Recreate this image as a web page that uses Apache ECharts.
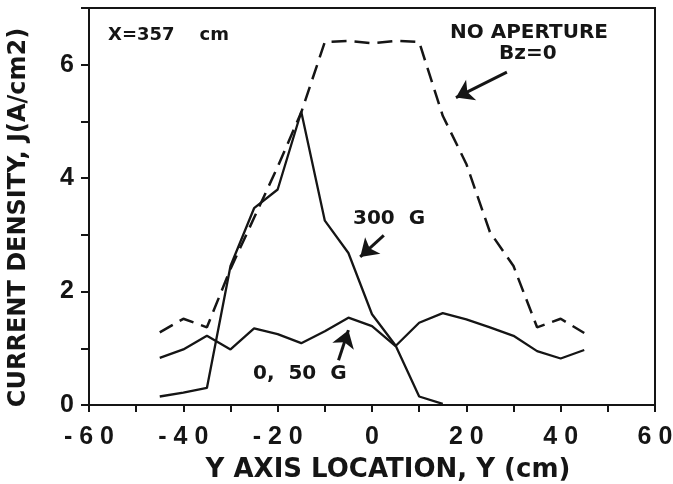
<!DOCTYPE html>
<html>
<head>
<meta charset="utf-8">
<script src="https://cdn.jsdelivr.net/npm/echarts@6/dist/echarts.min.js"></script>
<style>
  html, body { margin: 0; padding: 0; background: #fff; }
  #chart { width: 673px; height: 484px; }
</style>
</head>
<body>
<div id="chart"></div>
<script>
// Y axis location (cm)
const yPos = [-45, -40, -35, -30, -25, -20, -15, -10, -5, 0, 5, 10, 15, 20, 25, 30, 35, 40, 45];
// current density J (A/cm2)
const noAperture = [1.28, 1.52, 1.37, 2.4, 3.3, 4.2, 5.16, 6.4, 6.42, 6.38, 6.42, 6.4, 5.1, 4.25, 3.05, 2.45, 1.37, 1.52, 1.27];
const g300Pos = [-45, -40, -35, -30, -25, -20, -15, -10, -5, 0, 5, 10, 15];
const g300 = [0.15, 0.22, 0.3, 2.45, 3.47, 3.8, 5.17, 3.25, 2.68, 1.6, 1.05, 0.15, 0.02];
const g0_50 = [0.83, 0.98, 1.22, 0.98, 1.35, 1.25, 1.09, 1.3, 1.54, 1.39, 1.04, 1.45, 1.62, 1.51, 1.37, 1.22, 0.95, 0.82, 0.97];

// annotation arrows, [from, to] in data coordinates
const arrows = [
  [[28.6, 5.87], [17.8, 5.42]],
  [[2.5, 2.99], [-2.5, 2.61]],
  [[-7.1, 0.79], [-5.0, 1.32]]
];

const ink = '#151515';

function pairs(xs, ys) {
  return xs.map((x, i) => [x, ys[i]]);
}

function spaced(v) {
  const s = String(Math.abs(v)).split('').join(' ');
  return v < 0 ? '- ' + s : s;
}

const chart = echarts.init(document.getElementById('chart'));

const option = {
  backgroundColor: '#fff',
  animation: false,
  grid: {
    left: 89, right: 18, top: 8, bottom: 79,
    outerBoundsMode: 'none', containLabel: false,
    show: true, borderColor: ink, borderWidth: 2
  },
  xAxis: {
    type: 'value', min: -60, max: 60, interval: 10,
    name: 'Y AXIS LOCATION, Y (cm)',
    nameLocation: 'middle', nameGap: 52,
    nameTextStyle: {
      fontFamily: 'DejaVu Sans', fontWeight: 'bold', fontSize: 26, color: ink,
      padding: [0, 0, 0, 32]
    },
    axisLine: { onZero: false, lineStyle: { color: ink, width: 2 } },
    axisTick: { length: 7, lineStyle: { color: ink, width: 2 } },
    axisLabel: {
      margin: 20, color: ink, fontFamily: 'Liberation Sans', fontWeight: 'bold', fontSize: 25,
      formatter: v => (v % 20 === 0 ? spaced(v) : '')
    },
    splitLine: { show: false }
  },
  yAxis: {
    type: 'value', min: 0, max: 7, interval: 1,
    name: 'CURRENT DENSITY, J(A/cm2)',
    nameLocation: 'middle', nameGap: 58, nameRotate: 90,
    nameTextStyle: {
      fontFamily: 'DejaVu Sans', fontWeight: 'bold', fontSize: 24, color: ink,
      padding: [0, 22, 0, 0]
    },
    axisLine: { onZero: false, lineStyle: { color: ink, width: 2 } },
    axisTick: { length: 8, lineStyle: { color: ink, width: 2 } },
    axisLabel: {
      margin: 15, color: ink, fontFamily: 'Liberation Sans', fontWeight: 'bold', fontSize: 25,
      formatter: v => (v % 2 === 0 ? String(v) : '')
    },
    splitLine: { show: false }
  },
  graphic: [
    { type: 'text', left: 108, top: 26, style: { text: 'X=357    cm', font: 'bold 18px "DejaVu Sans"', fill: ink } },
    { type: 'text', left: 450, top: 23, style: { text: 'NO APERTURE', font: 'bold 20px "DejaVu Sans"', fill: ink } },
    { type: 'text', left: 499, top: 44, style: { text: 'Bz=0', font: 'bold 20px "DejaVu Sans"', fill: ink } },
    { type: 'text', left: 353, top: 209, style: { text: '300  G', font: 'bold 20px "DejaVu Sans"', fill: ink } },
    { type: 'text', left: 253, top: 364, style: { text: '0,  50  G', font: 'bold 20px "DejaVu Sans"', fill: ink } }
  ],
  series: [
    {
      name: 'NO APERTURE Bz=0', type: 'line', data: pairs(yPos, noAperture),
      showSymbol: false, lineStyle: { color: ink, width: 2.5, type: [15, 8] }
    },
    {
      name: '300 G', type: 'line', data: pairs(g300Pos, g300),
      showSymbol: false, lineStyle: { color: ink, width: 2.3 }
    },
    {
      name: '0, 50 G', type: 'line', data: pairs(yPos, g0_50),
      showSymbol: false, lineStyle: { color: ink, width: 2.3 },
      markLine: {
        silent: true, symbol: ['none', 'arrow'], symbolSize: 17,
        label: { show: false },
        itemStyle: { color: '#333' },
        lineStyle: { color: ink, width: 3, type: 'solid' },
        data: arrows.map(a => [{ coord: a[0] }, { coord: a[1] }])
      }
    }
  ]
};

chart.setOption(option);
</script>
</body>
</html>
